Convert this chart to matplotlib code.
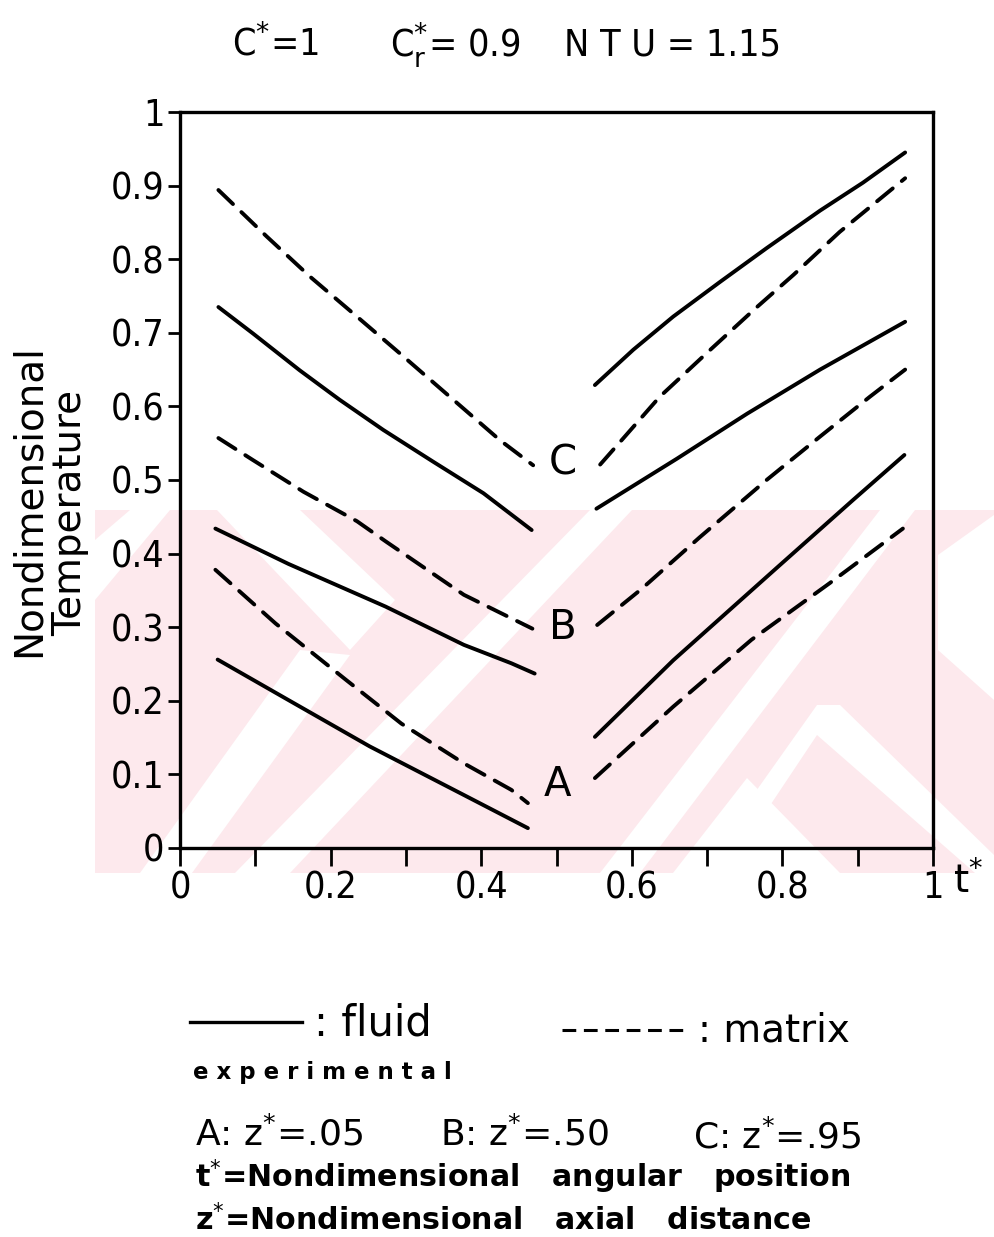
import matplotlib
matplotlib.use("Agg")
import matplotlib.pyplot as plt
from matplotlib import font_manager
from matplotlib.font_manager import FontProperties
from matplotlib.patches import Polygon, Rectangle
from matplotlib.lines import Line2D

# ---------------- data ----------------
# left branch (0 < t* < 0.5)
cf_left_x = [0.051, 0.097, 0.159, 0.212, 0.270, 0.336, 0.403, 0.467]
cf_left_y = [0.735, 0.699, 0.649, 0.609, 0.568, 0.525, 0.482, 0.432]
cm_left_x = [0.051, 0.115, 0.173, 0.235, 0.292, 0.363, 0.425, 0.469]
cm_left_y = [0.894, 0.831, 0.776, 0.722, 0.672, 0.609, 0.554, 0.520]
bf_left_x = [0.047, 0.144, 0.273, 0.377, 0.44, 0.471]
bf_left_y = [0.434, 0.386, 0.328, 0.276, 0.251, 0.237]
bm_left_x = [0.051, 0.097, 0.164, 0.235, 0.274, 0.377, 0.468]
bm_left_y = [0.557, 0.527, 0.484, 0.444, 0.416, 0.344, 0.298]
af_left_x = [0.05, 0.144, 0.252, 0.377, 0.462]
af_left_y = [0.256, 0.201, 0.138, 0.072, 0.027]
am_left_x = [0.047, 0.127, 0.221, 0.294, 0.377, 0.44, 0.462]
am_left_y = [0.378, 0.305, 0.228, 0.169, 0.115, 0.079, 0.061]
# right branch (0.5 < t* < 1)
cf_right_x = [0.551, 0.602, 0.655, 0.717, 0.779, 0.850, 0.907, 0.963]
cf_right_y = [0.629, 0.677, 0.722, 0.769, 0.815, 0.866, 0.904, 0.945]
cm_right_x = [0.558, 0.589, 0.637, 0.699, 0.764, 0.815, 0.876, 0.963]
cm_right_y = [0.521, 0.557, 0.613, 0.672, 0.733, 0.779, 0.837, 0.910]
bf_right_x = [0.553, 0.660, 0.753, 0.850, 0.963]
bf_right_y = [0.461, 0.529, 0.590, 0.650, 0.715]
bm_right_x = [0.554, 0.613, 0.69, 0.779, 0.850, 0.916, 0.963]
bm_right_y = [0.303, 0.352, 0.422, 0.500, 0.559, 0.613, 0.650]
af_right_x = [0.551, 0.655, 0.794, 0.894, 0.962]
af_right_y = [0.151, 0.255, 0.382, 0.473, 0.534]
am_right_x = [0.551, 0.655, 0.759, 0.863, 0.960]
am_right_y = [0.095, 0.192, 0.283, 0.36, 0.434]

curve_labels = ["C", "B", "A"]
curve_label_x = [0.509, 0.509, 0.501]
curve_label_y = [0.523, 0.299, 0.086]

yticks = [0, 0.1, 0.2, 0.3, 0.4, 0.5, 0.6, 0.7, 0.8, 0.9, 1]
ytick_labels = ["0", "0.1", "0.2", "0.3", "0.4", "0.5", "0.6", "0.7", "0.8", "0.9", "1"]
xticks = [0, 0.2, 0.4, 0.6, 0.8, 1]
xtick_labels = ["0", "0.2", "0.4", "0.6", "0.8", "1"]
xminor = [0.1, 0.3, 0.5, 0.7, 0.9]

# ---------------- fonts: prefer a condensed sans if one is installed ----------------
cond_file = None
best = 99
for f in font_manager.fontManager.ttflist:
    nm = f.name
    st = str(f.stretch)
    is_cond = ("Narrow" in nm or "Condensed" in nm or "Condensed" in f.fname
               or st in ("condensed", "semi-condensed"))
    if not is_cond or f.style != "normal":
        continue
    if f.weight not in (400, "normal", "regular", "book"):
        continue
    rank = 0 if "Liberation" in nm else (1 if "DejaVu" in nm or "DejaVu" in f.fname else 2)
    if rank < best:
        best = rank
        cond_file = f.fname

if cond_file is not None:
    num_font = FontProperties(fname=cond_file)
    tick_size, title_size = 27, 27
else:
    num_font = FontProperties(family="DejaVu Sans")
    tick_size, title_size = 22, 23

# ---------------- figure ----------------
W, H = 994, 1237
fig = plt.figure(figsize=(W / 100, H / 100), dpi=100)
fig.patch.set_facecolor("white")


def fx(px):
    return px / W


def fy(py):
    return 1 - py / H


# faint watermark (pink band with white gaps)
pink = "#fde9ed"
fig.add_artist(Rectangle((fx(95), fy(873)), fx(994) - fx(95), fy(510) - fy(873),
                         transform=fig.transFigure, facecolor=pink, edgecolor="none", zorder=0))
white_shapes = [
    [(590, 510), (632, 510), (290, 873), (235, 873)],
    [(217, 510), (300, 510), (395, 600), (350, 650)],
    [(140, 873), (192, 873), (350, 655), (300, 650)],
    [(95, 540), (130, 510), (170, 510), (95, 600)],
    [(817, 705), (840, 705), (994, 855), (994, 873), (975, 873), (817, 735),
     (725, 873), (698, 873)],
    [(747, 778), (840, 873), (673, 873)],
    [(938, 555), (994, 515), (994, 700), (938, 650)],
    [(880, 510), (915, 510), (640, 873), (600, 873)],
]
for s in white_shapes:
    fig.add_artist(Polygon([(fx(a), fy(b)) for a, b in s], closed=True,
                           transform=fig.transFigure, facecolor="white",
                           edgecolor="none", zorder=0.5))

ax = fig.add_axes([fx(180), fy(848), fx(933) - fx(180), fy(112) - fy(848)])
ax.patch.set_alpha(0)
ax.set_zorder(2)

lw = 2.8
solid = dict(color="black", lw=lw, solid_capstyle="round", solid_joinstyle="round")
dashed = dict(color="black", lw=lw, linestyle=(0, (5.2, 3.0)), dash_capstyle="round")

ax.plot(cf_left_x, cf_left_y, **solid)
ax.plot(cm_left_x, cm_left_y, **dashed)
ax.plot(bf_left_x, bf_left_y, **solid)
ax.plot(bm_left_x, bm_left_y, **dashed)
ax.plot(af_left_x, af_left_y, **solid)
ax.plot(am_left_x, am_left_y, **dashed)
ax.plot(cf_right_x, cf_right_y, **solid)
ax.plot(cm_right_x, cm_right_y, **dashed)
ax.plot(bf_right_x, bf_right_y, **solid)
ax.plot(bm_right_x, bm_right_y, **dashed)
ax.plot(af_right_x, af_right_y, **solid)
ax.plot(am_right_x, am_right_y, **dashed)

for lab, lx, ly in zip(curve_labels, curve_label_x, curve_label_y):
    ax.text(lx, ly, lab, fontsize=29, ha="center", va="center")

ax.set_xlim(0, 1)
ax.set_ylim(0, 1)
ax.set_yticks(yticks)
ax.set_yticklabels(ytick_labels)
ax.set_xticks(xticks)
ax.set_xticklabels(xtick_labels)
ax.set_xticks(xminor, minor=True)
for sp in ax.spines.values():
    sp.set_linewidth(2.4)
ax.tick_params(axis="both", which="both", direction="out", width=2.0,
               top=False, right=False)
ax.tick_params(axis="y", length=9, pad=2)
ax.tick_params(axis="x", which="both", length=13, pad=3)
for lab in ax.get_xticklabels() + ax.get_yticklabels():
    lab.set_fontproperties(num_font)
    lab.set_fontsize(tick_size)

# axis labels
fig.text(fx(29), fy(501), "Nondimensional", rotation=90, fontsize=28,
         ha="center", va="center")
fig.text(fx(70), fy(513), "Temperature", rotation=90, fontsize=28,
         ha="center", va="center")
fig.text(fx(968), fy(880), r"t$^{*}$", fontsize=28, ha="center", va="center")

# title parameters
for txt, xc in [(r"C$^{*}$=1", 275), (r"C$_{\mathrm{r}}^{*}$= 0.9", 455),
                ("N T U = 1.15", 672)]:
    t = fig.text(fx(xc), fy(45), txt, ha="center", va="center")
    t.set_fontproperties(num_font)
    t.set_fontsize(title_size)

# legend-like notes below the chart
fig.add_artist(Line2D([fx(190), fx(302)], [fy(1022), fy(1022)], color="black", lw=2.4,
                      transform=fig.transFigure))
fig.text(fx(314), fy(1024), ": fluid", fontsize=30, ha="left", va="center")
fig.add_artist(Line2D([fx(562), fx(690)], [fy(1030), fy(1030)], color="black", lw=2.2,
                      linestyle=(0, (4.5, 2.5)), transform=fig.transFigure))
fig.text(fx(698), fy(1030), ": matrix", fontsize=28, ha="left", va="center")
fig.text(fx(193), fy(1072), "e x p e r i m e n t a l", fontsize=16.5, fontweight="bold",
         ha="left", va="center")
fig.text(fx(195), fy(1134), r"A: z$^{*}$=.05", fontsize=26, ha="left", va="center")
fig.text(fx(440), fy(1134), r"B: z$^{*}$=.50", fontsize=26, ha="left", va="center")
fig.text(fx(693), fy(1137), r"C: z$^{*}$=.95", fontsize=26, ha="left", va="center")
fig.text(fx(195), fy(1177), r"t$^{*}$=Nondimensional   angular   position", fontsize=21.7,
         fontweight="bold", ha="left", va="center")
fig.text(fx(195), fy(1220), r"z$^{*}$=Nondimensional   axial   distance", fontsize=21.7,
         fontweight="bold", ha="left", va="center")

fig.savefig("out.png", dpi=100, facecolor="white")
